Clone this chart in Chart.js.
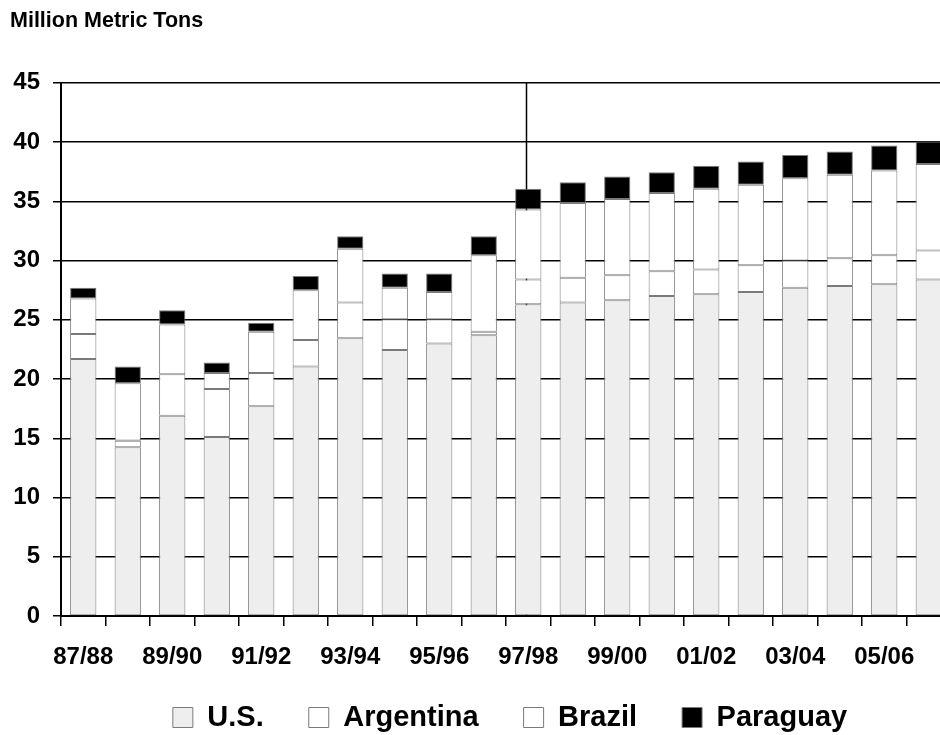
<!DOCTYPE html>
<html>
<head>
<meta charset="utf-8">
<script src="https://cdn.jsdelivr.net/npm/chart.js@4"></script>
<style>
    html, body { margin: 0; padding: 0; background: #fff; overflow: hidden; }
    #wrap { width: 951px; height: 735px; }
</style>
</head>
<body>
<div id="wrap"><canvas id="soyChart" width="951" height="735"></canvas></div>
<script>
const years = ['87/88', '88/89', '89/90', '90/91', '91/92', '92/93', '93/94', '94/95', '95/96', '96/97',
    '97/98', '98/99', '99/00', '00/01', '01/02', '02/03', '03/04', '04/05', '05/06', '06/07'];

const us = [21.7, 14.25, 16.9, 15.1, 17.7, 21.05, 23.45, 22.45, 23.0, 23.7,
    26.3, 26.45, 26.65, 27.0, 27.15, 27.35, 27.7, 27.85, 28.0, 28.4];
const argentina = [2.1, 0.55, 3.5, 4.05, 2.8, 2.25, 3.0, 2.6, 2.05, 0.3,
    2.1, 2.1, 2.1, 2.1, 2.1, 2.25, 2.3, 2.35, 2.45, 2.45];
const brazil = [3.0, 4.85, 4.2, 1.35, 3.5, 4.2, 4.55, 2.65, 2.3, 6.45,
    5.9, 6.3, 6.45, 6.6, 6.8, 6.8, 6.95, 7.05, 7.15, 7.3];
const paraguay = [0.9, 1.4, 1.2, 0.9, 0.75, 1.2, 1.05, 1.2, 1.55, 1.6,
    1.75, 1.75, 1.9, 1.75, 1.95, 1.95, 1.95, 1.95, 2.1, 1.9];

const yTicks = { min: 0, max: 45, step: 5 };
const markerIndex = 10;  // 97/98

const FONT = 'Arial, "Liberation Sans", sans-serif';
const colors = {
    us: '#eeeeee',
    argentina: '#ffffff',
    brazil: '#ffffff',
    paraguay: '#000000',
    edge: '#7a7a7a',
};

// line from the top of the plot down through the 97/98 bar
const markerLine = {
    id: 'markerLine',
    beforeDatasetsDraw(chart) {
        const { ctx, chartArea, scales } = chart;
        const x = Math.round(scales.x.getPixelForValue(markerIndex)) - 1.5;
        ctx.save();
        ctx.strokeStyle = '#000';
        ctx.lineWidth = 1.5;
        ctx.beginPath();
        ctx.moveTo(x, chartArea.top);
        ctx.lineTo(x, chartArea.bottom);
        ctx.stroke();
        ctx.restore();
    },
};

// the legend sits lower and further right than chart.js would put it,
// and the x labels hang below the (squeezed) x axis box
const legendNudge = {
    id: 'legendNudge',
    afterLayout(chart) {
        chart.legend.left = 69;
        chart.legend.top += 7;
        chart.scales.x.bottom = chart.height;
    },
};

const makeSet = (label, values, fill) => ({
    label: label,
    data: values,
    backgroundColor: fill,
    borderColor: colors.edge,
    borderWidth: 1,
    borderSkipped: false,
    barPercentage: 0.59,
    categoryPercentage: 1,
});

const initChart = (id) => {
    const ctx = document.getElementById(id).getContext('2d');
    new Chart(ctx, {
        type: 'bar',
        data: {
            labels: years,
            datasets: [
                makeSet('U.S.', us, colors.us),
                makeSet('Argentina', argentina, colors.argentina),
                makeSet('Brazil', brazil, colors.brazil),
                makeSet('Paraguay', paraguay, colors.paraguay),
            ],
        },
        options: {
            responsive: false,
            animation: false,
            devicePixelRatio: 1,
            layout: { padding: { left: 10, right: 0, top: 0, bottom: 0 } },
            plugins: {
                title: {
                    display: true,
                    text: 'Million Metric Tons',
                    align: 'start',
                    color: '#000',
                    font: { family: FONT, size: 21.5, weight: 'bold' },
                    padding: { top: 8, bottom: 49 },
                },
                legend: {
                    position: 'bottom',
                    labels: {
                        color: '#000',
                        boxWidth: 20,
                        boxHeight: 20,
                        padding: 45,
                        font: { family: FONT, size: 29, weight: 'bold' },
                    },
                },
                tooltip: { enabled: false },
            },
            scales: {
                x: {
                    stacked: true,
                    afterFit: (scale) => { scale.height = 35; },
                    grid: {
                        offset: true,
                        drawOnChartArea: false,
                        drawTicks: true,
                        tickLength: 10,
                        color: '#000',
                        lineWidth: 1.5,
                    },
                    border: { display: true, color: '#000', width: 2 },
                    ticks: {
                        autoSkip: false,
                        maxRotation: 0,
                        padding: 17,
                        color: '#000',
                        font: { family: FONT, size: 24, weight: 'bold' },
                        callback: (value, index) => (index % 2 === 0 ? years[index] : ''),
                    },
                },
                y: {
                    stacked: true,
                    min: yTicks.min,
                    max: yTicks.max,
                    afterFit: (scale) => { scale.width = 51; },
                    grid: {
                        color: '#000',
                        lineWidth: 1.5,
                        drawTicks: true,
                        tickLength: 8,
                    },
                    border: { display: true, color: '#000', width: 2 },
                    ticks: {
                        stepSize: yTicks.step,
                        padding: 13,
                        color: '#000',
                        font: { family: FONT, size: 24, weight: 'bold' },
                    },
                },
            },
        },
        plugins: [markerLine, legendNudge],
    });
};

initChart('soyChart');
</script>
</body>
</html>
